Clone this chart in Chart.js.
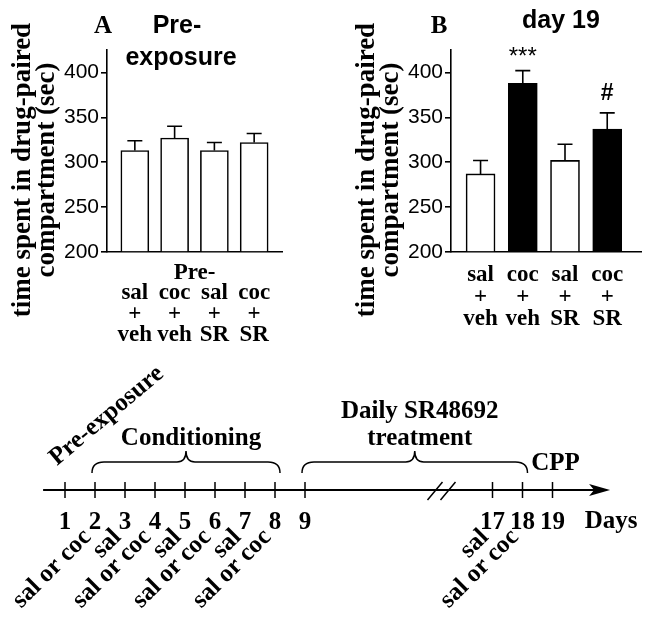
<!DOCTYPE html>
<html>
<head>
<meta charset="utf-8">
<script src="https://cdn.jsdelivr.net/npm/chart.js@4.4.1/dist/chart.umd.min.js"></script>
<style>
  body { margin: 0; background: #fff; }
  canvas { position: absolute; }
</style>
</head>
<body>
<canvas id="chartA" width="323" height="350" style="left:0;top:0"></canvas>
<canvas id="chartB" width="323" height="350" style="left:323px;top:0"></canvas>
<canvas id="timeline" width="646" height="280" style="left:0;top:340px"></canvas>
<script>
  // groups (same in both panels)
  var groupDrug = ['sal', 'coc', 'sal', 'coc'];
  var groupTreat = ['veh', 'veh', 'SR', 'SR'];
  var yTitle = ['time spent in drug-paired', 'compartment (sec)'];

  // A: pre-exposure
  var preMean = [313, 327, 313, 322];
  var preSem = [11, 13, 9, 10];

  // B: day 19
  var day19Mean = [287, 388, 302, 337];
  var day19Sem = [15, 14, 18, 18];
  var day19Marks = ['', '***', '', '#'];

  // timeline
  var days = [1, 2, 3, 4, 5, 6, 7, 8, 9, 17, 18, 19];
  var injDays = [2, 3, 4, 5, 6, 7, 8, 17, 18];
  var injLabels = ['sal or coc', 'sal', 'sal or coc', 'sal', 'sal or coc', 'sal', 'sal or coc', 'sal', 'sal or coc'];
  var phaseStart = [2, 9];
  var phaseEnd = [8, 18];
  var phaseText = [['Conditioning'], ['Daily SR48692', 'treatment']];
  var breakAfter = 9, breakGap = 1.75, breakMark = 13.55;

  var serif = '"Liberation Serif", "Times New Roman", serif';
  var sans = '"Liberation Sans", Arial, sans-serif';

  function panelPlugin(p) {
    return {
      id: 'panel' + p.letter,
      afterDatasetsDraw: function (chart) {
        var ctx = chart.ctx, x = chart.scales.x, y = chart.scales.y;
        ctx.save();
        ctx.strokeStyle = '#000';
        ctx.lineWidth = 1.6;
        p.mean.forEach(function (m, i) {
          var cx = x.getPixelForValue(i + 1);
          var top = y.getPixelForValue(m + p.sem[i]);
          ctx.beginPath();
          ctx.moveTo(cx, y.getPixelForValue(m));
          ctx.lineTo(cx, top);
          ctx.moveTo(cx - 7.5, top);
          ctx.lineTo(cx + 7.5, top);
          ctx.stroke();
        });
        ctx.restore();
      },
      afterDraw: function (chart) {
        var ctx = chart.ctx, x = chart.scales.x, y = chart.scales.y;
        ctx.save();
        ctx.fillStyle = '#000';
        ctx.textAlign = 'center';
        ctx.textBaseline = 'alphabetic';

        // y axis title
        ctx.font = 'bold 27px ' + serif;
        yTitle.forEach(function (t, i) {
          ctx.save();
          ctx.translate(chart.chartArea.left - 77 + i * 24, 170);
          ctx.rotate(-Math.PI / 2);
          ctx.fillText(t, 0, 0);
          ctx.restore();
        });

        // panel letter and heading
        ctx.font = 'bold 25px ' + serif;
        ctx.fillText(p.letter, p.letterX, 33);
        ctx.font = 'bold 25px ' + sans;
        p.title.forEach(function (t) { ctx.fillText(t.text, t.x, t.y); });

        // significance marks
        (p.marks || []).forEach(function (mk, i) {
          if (!mk) return;
          var top = y.getPixelForValue(p.mean[i] + p.sem[i]);
          if (mk === '#') {
            ctx.font = 'bold 23px ' + sans;
            ctx.fillText(mk, x.getPixelForValue(i + 1), top - 13);
          } else {
            ctx.font = '24px ' + sans;
            ctx.fillText(mk, x.getPixelForValue(i + 1), top - 7);
          }
        });

        // extra "Pre-" line under panel A
        if (p.underTitle) {
          ctx.font = 'bold 23px ' + serif;
          ctx.textBaseline = 'middle';
          ctx.fillText(p.underTitle, (x.getPixelForValue(2) + x.getPixelForValue(3)) / 2,
            chart.chartArea.bottom + 21);
        }
        ctx.restore();
      }
    };
  }

  function barPanel(id, p) {
    return new Chart(document.getElementById(id), {
      type: 'bar',
      data: {
        datasets: [{
          data: p.mean.map(function (m, i) { return { x: i + 1, y: m }; }),
          backgroundColor: p.fills,
          borderColor: '#000',
          borderWidth: 1.6,
          barThickness: p.barW,
          base: 200
        }]
      },
      options: {
        responsive: false,
        animation: false,
        events: [],
        layout: { padding: { left: 0, top: 50, right: p.padRight, bottom: 0 } },
        plugins: { legend: { display: false }, tooltip: { enabled: false } },
        scales: {
          x: {
            type: 'linear',
            offset: false,
            min: p.xMin,
            max: p.xMax,
            afterBuildTicks: function (s) {
              s.ticks = p.mean.map(function (_, i) { return { value: i + 1 }; });
            },
            afterFit: function (s) { s.height = 98; },
            grid: { display: false, offset: false },
            border: { color: '#000', width: 1.6 },
            ticks: {
              autoSkip: false,
              maxRotation: 0,
              padding: p.labelPad,
              color: '#000',
              font: { family: serif, weight: 'bold', size: 23, lineHeight: p.lineH },
              callback: function (v, i) { return p.lines(i); }
            }
          },
          y: {
            min: 200,
            max: 425,
            afterFit: function (s) { s.width = p.axisLeft; },
            ticks: { stepSize: 50, includeBounds: false, padding: 2, color: '#000', font: { family: sans, size: 21 } },
            grid: { drawOnChartArea: false, color: '#000', lineWidth: 1.6, tickLength: 6 },
            border: { color: '#000', width: 1.6 }
          }
        }
      },
      plugins: [panelPlugin(p)]
    });
  }

  barPanel('chartA', {
    letter: 'A', letterX: 103,
    title: [{ text: 'Pre-', x: 177, y: 33 }, { text: 'exposure', x: 181, y: 65 }],
    mean: preMean, sem: preSem,
    fills: ['#fff', '#fff', '#fff', '#fff'],
    barW: 28, xMin: 0.3, xMax: 4.7, axisLeft: 107, padRight: 41,
    labelPad: 1.5, lineH: 21 / 23,
    underTitle: 'Pre-',
    lines: function (i) { return ['', groupDrug[i], '+', groupTreat[i]]; }
  });

  barPanel('chartB', {
    letter: 'B', letterX: 116,
    title: [{ text: 'day 19', x: 238, y: 28 }],
    mean: day19Mean, sem: day19Sem, marks: day19Marks,
    fills: ['#fff', '#000', '#fff', '#000'],
    barW: 29, xMin: 0.3, xMax: 4.8, axisLeft: 128, padRight: 5,
    labelPad: 4, lineH: 22 / 23,
    lines: function (i) { return [groupDrug[i], '+', groupTreat[i]]; }
  });

  // timeline with a broken axis between day 9 and day 17
  function dayPos(d) { return d > breakAfter ? d - breakGap : d; }

  var timelinePlugin = {
    id: 'timeline',
    beforeDatasetsDraw: function (chart) {
      var ctx = chart.ctx, x = chart.scales.x;
      var ay = chart.scales.y.getPixelForValue(0);
      var x0 = x.getPixelForValue(0.27), tip = x.getPixelForValue(19.17);
      ctx.save();
      ctx.strokeStyle = '#000';
      ctx.fillStyle = '#000';
      ctx.lineWidth = 1.8;
      ctx.beginPath();
      ctx.moveTo(x0, ay);
      ctx.lineTo(tip - 10, ay);
      ctx.stroke();
      ctx.beginPath();
      ctx.moveTo(tip, ay);
      ctx.lineTo(tip - 21, ay - 6);
      ctx.lineTo(tip - 16, ay);
      ctx.lineTo(tip - 21, ay + 6);
      ctx.closePath();
      ctx.fill();
      var bx = x.getPixelForValue(breakMark);
      ctx.lineWidth = 1.5;
      ctx.beginPath();
      ctx.moveTo(bx - 14, ay + 10); ctx.lineTo(bx + 1, ay - 8);
      ctx.moveTo(bx - 1, ay + 10); ctx.lineTo(bx + 14, ay - 8);
      ctx.stroke();
      ctx.restore();
    },
    afterDraw: function (chart) {
      var ctx = chart.ctx, x = chart.scales.x;
      var ay = chart.scales.y.getPixelForValue(0);
      function px(d) { return x.getPixelForValue(dayPos(d)); }
      ctx.save();
      ctx.fillStyle = '#000';
      ctx.strokeStyle = '#000';
      ctx.font = 'bold 25px ' + serif;
      ctx.textBaseline = 'alphabetic';

      // day numbers
      ctx.textAlign = 'center';
      days.forEach(function (d) { ctx.fillText(String(d), px(d), ay + 39); });
      ctx.fillText('Days', x.getPixelForValue(19.17) + 1, ay + 38);
      ctx.fillText('CPP', px(19) + 3, ay - 20);

      // injections, slanted
      ctx.textAlign = 'right';
      injDays.forEach(function (d, i) {
        ctx.save();
        ctx.translate(px(d) - 3, ay + 48);
        ctx.rotate(-Math.PI / 4);
        ctx.fillText(injLabels[i], 0, 0);
        ctx.restore();
      });

      ctx.textAlign = 'left';
      ctx.save();
      ctx.translate(px(1) - 8, ay - 24);
      ctx.rotate(-40 * Math.PI / 180);
      ctx.fillText('Pre-exposure', 0, 0);
      ctx.restore();

      // braces with phase names
      ctx.lineWidth = 1.5;
      ctx.textAlign = 'center';
      phaseStart.forEach(function (s, i) {
        var l = px(s) - 3, r = px(phaseEnd[i]) + 5, m = (l + r) / 2;
        var yEnd = ay - 17, yMid = ay - 28, yPeak = ay - 39;
        ctx.beginPath();
        ctx.moveTo(l, yEnd);
        ctx.quadraticCurveTo(l, yMid, l + 12, yMid);
        ctx.lineTo(m - 9, yMid);
        ctx.quadraticCurveTo(m, yMid, m, yPeak);
        ctx.quadraticCurveTo(m, yMid, m + 9, yMid);
        ctx.lineTo(r - 12, yMid);
        ctx.quadraticCurveTo(r, yMid, r, yEnd);
        ctx.stroke();
        var lines = phaseText[i];
        lines.forEach(function (t, j) {
          ctx.fillText(t, m + 5, ay - 45 - (lines.length - 1 - j) * 27);
        });
      });
      ctx.restore();
    }
  };

  new Chart(document.getElementById('timeline'), {
    type: 'scatter',
    data: {
      datasets: [{
        data: days.map(function (d) { return { x: dayPos(d), y: 0 }; }),
        pointStyle: 'line',
        pointRotation: 90,
        pointRadius: 8,
        pointBorderColor: '#000',
        pointBorderWidth: 1.5,
        clip: false
      }]
    },
    options: {
      responsive: false,
      animation: false,
      events: [],
      layout: { padding: { left: 35, right: 11, top: 130, bottom: 110 } },
      plugins: { legend: { display: false }, tooltip: { enabled: false } },
      scales: {
        x: { type: 'linear', min: 0, max: 20, display: false },
        y: { min: -1, max: 1, display: false }
      }
    },
    plugins: [timelinePlugin]
  });
</script>
</body>
</html>
